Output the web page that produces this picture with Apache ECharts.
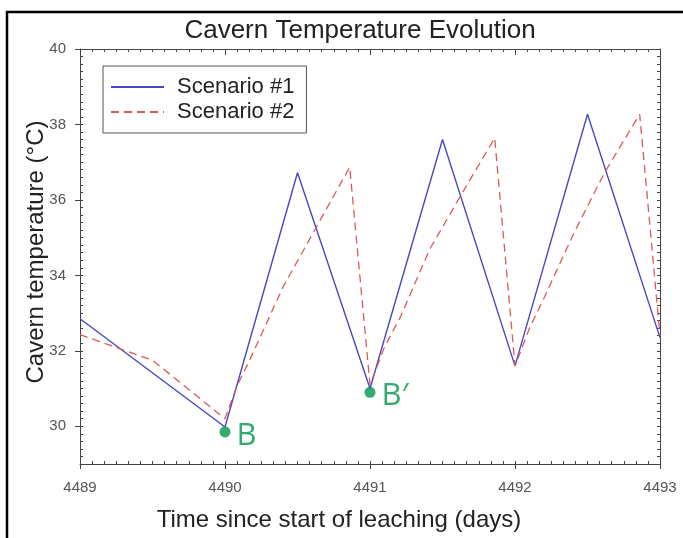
<!DOCTYPE html>
<html>
<head>
<meta charset="utf-8">
<script src="https://cdn.jsdelivr.net/npm/echarts@6/dist/echarts.min.js"></script>
<style>
html,body{margin:0;padding:0;background:#fff;}
#c{width:683px;height:538px;}
</style>
</head>
<body>
<div id="c"></div>
<script>
// ---- data ----
var dayTicks = [4489, 4490, 4491, 4492, 4493];
var tempTicks = [30, 32, 34, 36, 38, 40];
var scenario1Days  = [4489, 4490, 4490.5, 4491, 4491.5, 4492, 4492.5, 4493];
var scenario1Temps = [32.85, 29.98, 36.72, 31.0, 37.6, 31.6, 38.27, 32.35];
var scenario2Days  = [4489, 4489.5, 4490, 4490.08, 4490.17, 4490.4, 4490.63, 4490.86, 4491, 4491.1, 4491.21, 4491.41, 4491.62, 4491.86, 4492, 4492.1, 4492.2, 4492.41, 4492.62, 4492.86, 4493];
var scenario2Temps = [32.43, 31.75, 30.2, 31.05, 31.75, 33.69, 35.28, 36.87, 31.1, 32.1, 32.9, 34.68, 36.08, 37.64, 31.6, 32.6, 33.4, 35.15, 36.74, 38.27, 32.4];
var markerNames = ['B', 'B\u2032'];
var markerDays  = [4490, 4491];
var markerTemps = [29.85, 30.9];

function zip(a, b) { return a.map(function (v, i) { return [v, b[i]]; }); }

var green = '#00964b';
var axisColor = '#444';
var chart = echarts.init(document.getElementById('c'));

var minorTickX = {
  type: 'value', min: 0, max: 96, interval: 2,
  axisLine: { show: false, onZero: false },
  axisTick: { show: true, inside: true, length: 3, lineStyle: { color: axisColor } },
  axisLabel: { show: false }, splitLine: { show: false }
};
var minorTickY = {
  type: 'value', min: 0, max: 55, interval: 1,
  axisLine: { show: false, onZero: false },
  axisTick: { show: true, inside: true, length: 3, lineStyle: { color: axisColor } },
  axisLabel: { show: false }, splitLine: { show: false }
};

chart.setOption({
  animation: false,
  backgroundColor: '#fff',
  grid: { left: 80, right: 23, top: 49, bottom: 74, containLabel: false },
  xAxis: [
    {
      type: 'value', min: dayTicks[0], max: dayTicks[dayTicks.length - 1], interval: 1, position: 'bottom',
      axisLine: { show: true, onZero: false, lineStyle: { color: axisColor, width: 1 } },
      axisTick: { show: true, inside: false, length: 5, lineStyle: { color: axisColor } },
      axisLabel: { show: true, margin: 16, color: '#555', fontSize: 15, fontFamily: 'Liberation Sans', formatter: function (v) { return String(v); } },
      splitLine: { show: false }
    },
    Object.assign({}, minorTickX, { position: 'bottom' }),
    Object.assign({}, minorTickX, { position: 'top', axisLine: { show: true, onZero: false, lineStyle: { color: axisColor } } }),
    {
      type: 'value', min: dayTicks[0], max: dayTicks[dayTicks.length - 1], interval: 1, position: 'top',
      axisLine: { show: false, onZero: false },
      axisTick: { show: true, inside: true, length: 6, lineStyle: { color: axisColor } },
      axisLabel: { show: false }, splitLine: { show: false }
    }
  ],
  yAxis: [
    {
      type: 'value', min: 29, max: 40, position: 'left',
      axisLine: { show: true, onZero: false, lineStyle: { color: axisColor, width: 1 } },
      axisTick: { show: true, inside: false, length: 5, customValues: tempTicks, lineStyle: { color: axisColor } },
      axisLabel: { show: true, margin: 14, customValues: tempTicks, color: '#555', fontSize: 15, fontFamily: 'Liberation Sans' },
      splitLine: { show: false }
    },
    Object.assign({}, minorTickY, { position: 'left' }),
    Object.assign({}, minorTickY, { position: 'right', axisLine: { show: true, onZero: false, lineStyle: { color: axisColor } } })
  ],
  legend: {
    data: ['Scenario #1', 'Scenario #2'],
    orient: 'vertical',
    left: 103, top: 66,
    padding: [10, 12, 10, 7],
    itemWidth: 53, itemHeight: 22, itemGap: 3,
    backgroundColor: '#fff',
    borderColor: '#555', borderWidth: 1,
    itemStyle: { opacity: 0 },
    textStyle: { fontSize: 22, color: '#222', fontFamily: 'Liberation Sans', padding: [0, 0, 0, 8] }
  },
  graphic: [
    { type: 'rect', shape: { x: 7, y: 12, width: 720, height: 600 }, style: { fill: null, stroke: '#000', lineWidth: 2.5 }, z: 100 },
    { type: 'text', x: 360, y: 31, style: { text: 'Cavern Temperature Evolution', fontSize: 26, fontFamily: 'Liberation Sans', fill: '#222', textAlign: 'center', textVerticalAlign: 'middle' } },
    { type: 'text', x: 339, y: 520, style: { text: 'Time since start of leaching (days)', fontSize: 24, fontFamily: 'Liberation Sans', fill: '#222', textAlign: 'center', textVerticalAlign: 'middle' } },
    { type: 'text', x: 36, y: 252, rotation: Math.PI / 2, style: { text: 'Cavern temperature (\u00B0C)', fontSize: 24, fontFamily: 'Liberation Sans', fill: '#222', textAlign: 'center', textVerticalAlign: 'middle' } }
  ],
  series: [
    {
      name: 'Scenario #1', type: 'line', xAxisIndex: 0, yAxisIndex: 0,
      data: zip(scenario1Days, scenario1Temps), symbol: 'none',
      lineStyle: { color: '#4848c4', width: 1.4, type: 'solid' },
      itemStyle: { color: '#4848c4' }, z: 3
    },
    {
      name: 'Scenario #2', type: 'line', xAxisIndex: 0, yAxisIndex: 0,
      data: zip(scenario2Days, scenario2Temps), symbol: 'none',
      lineStyle: { color: '#dc5a5a', width: 1.3, type: [8, 5] },
      itemStyle: { color: '#dc5a5a' }, z: 4
    },
    {
      name: 'markers', type: 'scatter', xAxisIndex: 0, yAxisIndex: 0,
      data: markerDays.map(function (d, i) { return { value: [d, markerTemps[i]], name: markerNames[i] }; }),
      symbol: 'circle', symbolSize: 11,
      itemStyle: { color: green },
      label: { show: true, position: 'right', distance: 6, formatter: '{b}', color: green, fontSize: 31, fontFamily: 'Open Sans', offset: [0, 4] },
      z: 5
    }
  ]
});
</script>
</body>
</html>
